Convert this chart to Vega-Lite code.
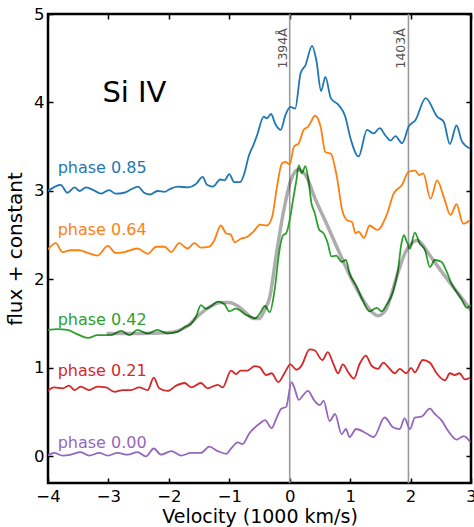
{
  "$schema": "https://vega.github.io/schema/vega-lite/v6.json",
  "width": 423,
  "height": 469,
  "autosize": "none",
  "padding": {"left": 48, "top": 14, "right": 3, "bottom": 44},
  "background": "white",
  "config": {
    "view": {"stroke": "black", "strokeWidth": 2.5},
    "font": "DejaVu Sans",
    "axis": {"grid": false, "domain": false, "labelFlush": false, "tickColor": "black", "tickWidth": 1.5, "tickSize": -5, "labelFontSize": 16.5, "labelColor": "black", "titleFontSize": 19.5, "titleFontWeight": "normal", "titleColor": "black", "labelFont": "DejaVu Sans", "titleFont": "DejaVu Sans"}
  },
  "datasets": {
    "curves": [
      {"s":"0.85","x":-4.0,"y":3.0},{"s":"0.85","x":-3.79,"y":3.07},{"s":"0.85","x":-3.68,"y":2.98},{"s":"0.85","x":-3.56,"y":3.04},{"s":"0.85","x":-3.48,"y":3.0},{"s":"0.85","x":-3.37,"y":3.04},{"s":"0.85","x":-3.25,"y":3.01},{"s":"0.85","x":-3.12,"y":2.97},{"s":"0.85","x":-2.99,"y":3.01},{"s":"0.85","x":-2.88,"y":2.97},{"s":"0.85","x":-2.74,"y":2.98},{"s":"0.85","x":-2.62,"y":3.02},{"s":"0.85","x":-2.51,"y":3.05},{"s":"0.85","x":-2.41,"y":2.98},{"s":"0.85","x":-2.31,"y":2.96},{"s":"0.85","x":-2.19,"y":3.0},{"s":"0.85","x":-2.07,"y":2.99},{"s":"0.85","x":-1.99,"y":3.02},{"s":"0.85","x":-1.85,"y":3.05},{"s":"0.85","x":-1.69,"y":3.04},{"s":"0.85","x":-1.55,"y":3.08},{"s":"0.85","x":-1.44,"y":3.16},{"s":"0.85","x":-1.37,"y":3.07},{"s":"0.85","x":-1.27,"y":3.05},{"s":"0.85","x":-1.15,"y":3.13},{"s":"0.85","x":-1.08,"y":3.12},{"s":"0.85","x":-1.0,"y":3.19},{"s":"0.85","x":-0.92,"y":3.10},{"s":"0.85","x":-0.82,"y":3.10},{"s":"0.85","x":-0.75,"y":3.20},{"s":"0.85","x":-0.68,"y":3.39},{"s":"0.85","x":-0.6,"y":3.52},{"s":"0.85","x":-0.54,"y":3.63},{"s":"0.85","x":-0.43,"y":3.84},{"s":"0.85","x":-0.38,"y":3.82},{"s":"0.85","x":-0.31,"y":3.87},{"s":"0.85","x":-0.24,"y":3.76},{"s":"0.85","x":-0.15,"y":3.69},{"s":"0.85","x":-0.07,"y":3.86},{"s":"0.85","x":0.01,"y":3.95},{"s":"0.85","x":0.09,"y":3.93},{"s":"0.85","x":0.18,"y":4.33},{"s":"0.85","x":0.26,"y":4.42},{"s":"0.85","x":0.37,"y":4.64},{"s":"0.85","x":0.44,"y":4.48},{"s":"0.85","x":0.52,"y":4.13},{"s":"0.85","x":0.59,"y":4.29},{"s":"0.85","x":0.68,"y":4.05},{"s":"0.85","x":0.81,"y":3.97},{"s":"0.85","x":0.92,"y":3.84},{"s":"0.85","x":1.0,"y":3.61},{"s":"0.85","x":1.14,"y":3.39},{"s":"0.85","x":1.28,"y":3.69},{"s":"0.85","x":1.39,"y":3.65},{"s":"0.85","x":1.49,"y":3.71},{"s":"0.85","x":1.58,"y":3.63},{"s":"0.85","x":1.67,"y":3.57},{"s":"0.85","x":1.75,"y":3.62},{"s":"0.85","x":1.86,"y":3.54},{"s":"0.85","x":1.97,"y":3.73},{"s":"0.85","x":2.08,"y":3.80},{"s":"0.85","x":2.25,"y":4.05},{"s":"0.85","x":2.44,"y":3.84},{"s":"0.85","x":2.55,"y":3.78},{"s":"0.85","x":2.65,"y":3.53},{"s":"0.85","x":2.76,"y":3.74},{"s":"0.85","x":2.85,"y":3.56},{"s":"0.85","x":2.98,"y":3.48},
      {"s":"0.64","x":-4.0,"y":2.34},{"s":"0.64","x":-3.87,"y":2.41},{"s":"0.64","x":-3.76,"y":2.31},{"s":"0.64","x":-3.62,"y":2.33},{"s":"0.64","x":-3.48,"y":2.33},{"s":"0.64","x":-3.34,"y":2.30},{"s":"0.64","x":-3.18,"y":2.27},{"s":"0.64","x":-3.01,"y":2.38},{"s":"0.64","x":-2.88,"y":2.30},{"s":"0.64","x":-2.74,"y":2.31},{"s":"0.64","x":-2.52,"y":2.35},{"s":"0.64","x":-2.35,"y":2.29},{"s":"0.64","x":-2.21,"y":2.37},{"s":"0.64","x":-2.07,"y":2.37},{"s":"0.64","x":-1.96,"y":2.31},{"s":"0.64","x":-1.83,"y":2.41},{"s":"0.64","x":-1.69,"y":2.35},{"s":"0.64","x":-1.58,"y":2.41},{"s":"0.64","x":-1.47,"y":2.36},{"s":"0.64","x":-1.33,"y":2.37},{"s":"0.64","x":-1.25,"y":2.44},{"s":"0.64","x":-1.14,"y":2.61},{"s":"0.64","x":-1.05,"y":2.52},{"s":"0.64","x":-0.98,"y":2.51},{"s":"0.64","x":-0.91,"y":2.42},{"s":"0.64","x":-0.81,"y":2.46},{"s":"0.64","x":-0.71,"y":2.48},{"s":"0.64","x":-0.60,"y":2.54},{"s":"0.64","x":-0.49,"y":2.62},{"s":"0.64","x":-0.38,"y":2.61},{"s":"0.64","x":-0.29,"y":2.71},{"s":"0.64","x":-0.21,"y":3.05},{"s":"0.64","x":-0.13,"y":3.31},{"s":"0.64","x":-0.07,"y":3.33},{"s":"0.64","x":0.0,"y":3.30},{"s":"0.64","x":0.07,"y":3.50},{"s":"0.64","x":0.15,"y":3.54},{"s":"0.64","x":0.23,"y":3.69},{"s":"0.64","x":0.31,"y":3.73},{"s":"0.64","x":0.42,"y":3.85},{"s":"0.64","x":0.51,"y":3.73},{"s":"0.64","x":0.59,"y":3.44},{"s":"0.64","x":0.68,"y":3.42},{"s":"0.64","x":0.78,"y":3.16},{"s":"0.64","x":0.87,"y":2.78},{"s":"0.64","x":0.95,"y":2.67},{"s":"0.64","x":1.03,"y":2.65},{"s":"0.64","x":1.09,"y":2.52},{"s":"0.64","x":1.14,"y":2.54},{"s":"0.64","x":1.23,"y":2.47},{"s":"0.64","x":1.32,"y":2.61},{"s":"0.64","x":1.45,"y":2.56},{"s":"0.64","x":1.61,"y":2.74},{"s":"0.64","x":1.72,"y":2.97},{"s":"0.64","x":1.86,"y":3.07},{"s":"0.64","x":1.97,"y":3.22},{"s":"0.64","x":2.08,"y":3.23},{"s":"0.64","x":2.14,"y":3.18},{"s":"0.64","x":2.21,"y":3.20},{"s":"0.64","x":2.33,"y":2.91},{"s":"0.64","x":2.44,"y":3.12},{"s":"0.64","x":2.55,"y":2.93},{"s":"0.64","x":2.66,"y":2.73},{"s":"0.64","x":2.76,"y":2.85},{"s":"0.64","x":2.87,"y":2.63},{"s":"0.64","x":2.98,"y":2.67},
      {"s":"0.42","x":-4.0,"y":1.43},{"s":"0.42","x":-3.84,"y":1.44},{"s":"0.42","x":-3.68,"y":1.43},{"s":"0.42","x":-3.51,"y":1.38},{"s":"0.42","x":-3.34,"y":1.34},{"s":"0.42","x":-3.18,"y":1.37},{"s":"0.42","x":-2.96,"y":1.37},{"s":"0.42","x":-2.79,"y":1.42},{"s":"0.42","x":-2.65,"y":1.37},{"s":"0.42","x":-2.52,"y":1.43},{"s":"0.42","x":-2.35,"y":1.39},{"s":"0.42","x":-2.19,"y":1.43},{"s":"0.42","x":-2.02,"y":1.39},{"s":"0.42","x":-1.85,"y":1.41},{"s":"0.42","x":-1.74,"y":1.46},{"s":"0.42","x":-1.63,"y":1.50},{"s":"0.42","x":-1.55,"y":1.58},{"s":"0.42","x":-1.47,"y":1.71},{"s":"0.42","x":-1.39,"y":1.67},{"s":"0.42","x":-1.30,"y":1.70},{"s":"0.42","x":-1.19,"y":1.75},{"s":"0.42","x":-1.08,"y":1.72},{"s":"0.42","x":-1.0,"y":1.64},{"s":"0.42","x":-0.89,"y":1.67},{"s":"0.42","x":-0.82,"y":1.65},{"s":"0.42","x":-0.75,"y":1.61},{"s":"0.42","x":-0.65,"y":1.58},{"s":"0.42","x":-0.57,"y":1.56},{"s":"0.42","x":-0.50,"y":1.61},{"s":"0.42","x":-0.41,"y":1.70},{"s":"0.42","x":-0.33,"y":1.63},{"s":"0.42","x":-0.25,"y":1.88},{"s":"0.42","x":-0.17,"y":2.33},{"s":"0.42","x":-0.11,"y":2.50},{"s":"0.42","x":-0.06,"y":2.52},{"s":"0.42","x":0.01,"y":2.71},{"s":"0.42","x":0.05,"y":2.88},{"s":"0.42","x":0.11,"y":3.12},{"s":"0.42","x":0.15,"y":3.29},{"s":"0.42","x":0.20,"y":3.20},{"s":"0.42","x":0.26,"y":3.28},{"s":"0.42","x":0.31,"y":3.12},{"s":"0.42","x":0.36,"y":2.86},{"s":"0.42","x":0.41,"y":2.76},{"s":"0.42","x":0.49,"y":2.56},{"s":"0.42","x":0.55,"y":2.53},{"s":"0.42","x":0.63,"y":2.41},{"s":"0.42","x":0.69,"y":2.26},{"s":"0.42","x":0.77,"y":2.27},{"s":"0.42","x":0.86,"y":2.20},{"s":"0.42","x":0.93,"y":2.22},{"s":"0.42","x":0.99,"y":2.07},{"s":"0.42","x":1.10,"y":1.93},{"s":"0.42","x":1.21,"y":1.76},{"s":"0.42","x":1.32,"y":1.64},{"s":"0.42","x":1.44,"y":1.68},{"s":"0.42","x":1.52,"y":1.64},{"s":"0.42","x":1.60,"y":1.71},{"s":"0.42","x":1.71,"y":1.86},{"s":"0.42","x":1.79,"y":2.10},{"s":"0.42","x":1.85,"y":2.41},{"s":"0.42","x":1.89,"y":2.50},{"s":"0.42","x":1.93,"y":2.44},{"s":"0.42","x":1.99,"y":2.35},{"s":"0.42","x":2.07,"y":2.53},{"s":"0.42","x":2.15,"y":2.41},{"s":"0.42","x":2.24,"y":2.33},{"s":"0.42","x":2.32,"y":2.14},{"s":"0.42","x":2.40,"y":2.22},{"s":"0.42","x":2.51,"y":2.20},{"s":"0.42","x":2.59,"y":2.10},{"s":"0.42","x":2.68,"y":1.95},{"s":"0.42","x":2.76,"y":1.86},{"s":"0.42","x":2.84,"y":1.78},{"s":"0.42","x":2.93,"y":1.68},{"s":"0.42","x":3.0,"y":1.71},
      {"s":"0.21","x":-4.0,"y":0.74},{"s":"0.21","x":-3.90,"y":0.78},{"s":"0.21","x":-3.76,"y":0.77},{"s":"0.21","x":-3.65,"y":0.80},{"s":"0.21","x":-3.56,"y":0.75},{"s":"0.21","x":-3.46,"y":0.79},{"s":"0.21","x":-3.32,"y":0.75},{"s":"0.21","x":-3.18,"y":0.79},{"s":"0.21","x":-3.04,"y":0.78},{"s":"0.21","x":-2.90,"y":0.73},{"s":"0.21","x":-2.76,"y":0.75},{"s":"0.21","x":-2.63,"y":0.75},{"s":"0.21","x":-2.49,"y":0.78},{"s":"0.21","x":-2.35,"y":0.75},{"s":"0.21","x":-2.25,"y":0.89},{"s":"0.21","x":-2.16,"y":0.77},{"s":"0.21","x":-2.02,"y":0.74},{"s":"0.21","x":-1.88,"y":0.80},{"s":"0.21","x":-1.74,"y":0.83},{"s":"0.21","x":-1.63,"y":0.78},{"s":"0.21","x":-1.47,"y":0.83},{"s":"0.21","x":-1.36,"y":0.77},{"s":"0.21","x":-1.19,"y":0.81},{"s":"0.21","x":-1.11,"y":0.78},{"s":"0.21","x":-0.97,"y":0.97},{"s":"0.21","x":-0.89,"y":0.93},{"s":"0.21","x":-0.81,"y":0.97},{"s":"0.21","x":-0.70,"y":0.97},{"s":"0.21","x":-0.58,"y":1.02},{"s":"0.21","x":-0.50,"y":1.01},{"s":"0.21","x":-0.39,"y":0.92},{"s":"0.21","x":-0.30,"y":0.94},{"s":"0.21","x":-0.19,"y":0.84},{"s":"0.21","x":-0.08,"y":0.95},{"s":"0.21","x":0.01,"y":1.04},{"s":"0.21","x":0.11,"y":0.98},{"s":"0.21","x":0.19,"y":1.02},{"s":"0.21","x":0.33,"y":1.21},{"s":"0.21","x":0.41,"y":1.20},{"s":"0.21","x":0.54,"y":1.09},{"s":"0.21","x":0.63,"y":1.18},{"s":"0.21","x":0.72,"y":1.05},{"s":"0.21","x":0.80,"y":0.94},{"s":"0.21","x":0.88,"y":1.04},{"s":"0.21","x":0.97,"y":0.95},{"s":"0.21","x":1.06,"y":0.88},{"s":"0.21","x":1.16,"y":1.05},{"s":"0.21","x":1.26,"y":1.14},{"s":"0.21","x":1.35,"y":1.03},{"s":"0.21","x":1.46,"y":0.99},{"s":"0.21","x":1.55,"y":1.06},{"s":"0.21","x":1.63,"y":1.01},{"s":"0.21","x":1.74,"y":0.94},{"s":"0.21","x":1.82,"y":0.99},{"s":"0.21","x":1.93,"y":0.94},{"s":"0.21","x":2.01,"y":1.0},{"s":"0.21","x":2.07,"y":0.95},{"s":"0.21","x":2.20,"y":1.09},{"s":"0.21","x":2.32,"y":1.06},{"s":"0.21","x":2.43,"y":0.94},{"s":"0.21","x":2.57,"y":0.86},{"s":"0.21","x":2.65,"y":0.94},{"s":"0.21","x":2.73,"y":0.92},{"s":"0.21","x":2.81,"y":0.94},{"s":"0.21","x":2.90,"y":0.87},{"s":"0.21","x":2.98,"y":0.89},
      {"s":"0.00","x":-4.0,"y":0.01},{"s":"0.00","x":-3.90,"y":0.04},{"s":"0.00","x":-3.76,"y":0.01},{"s":"0.00","x":-3.62,"y":0.02},{"s":"0.00","x":-3.46,"y":0.05},{"s":"0.00","x":-3.32,"y":0.01},{"s":"0.00","x":-3.15,"y":0.04},{"s":"0.00","x":-3.01,"y":0.01},{"s":"0.00","x":-2.85,"y":0.04},{"s":"0.00","x":-2.68,"y":0.02},{"s":"0.00","x":-2.52,"y":0.05},{"s":"0.00","x":-2.38,"y":0.0},{"s":"0.00","x":-2.25,"y":0.09},{"s":"0.00","x":-2.13,"y":0.02},{"s":"0.00","x":-1.96,"y":0.06},{"s":"0.00","x":-1.80,"y":0.01},{"s":"0.00","x":-1.63,"y":0.04},{"s":"0.00","x":-1.47,"y":0.04},{"s":"0.00","x":-1.33,"y":0.11},{"s":"0.00","x":-1.19,"y":0.06},{"s":"0.00","x":-1.05,"y":0.03},{"s":"0.00","x":-0.97,"y":0.09},{"s":"0.00","x":-0.86,"y":0.16},{"s":"0.00","x":-0.78,"y":0.14},{"s":"0.00","x":-0.67,"y":0.26},{"s":"0.00","x":-0.50,"y":0.37},{"s":"0.00","x":-0.41,"y":0.41},{"s":"0.00","x":-0.30,"y":0.32},{"s":"0.00","x":-0.22,"y":0.43},{"s":"0.00","x":-0.14,"y":0.54},{"s":"0.00","x":-0.06,"y":0.56},{"s":"0.00","x":0.03,"y":0.84},{"s":"0.00","x":0.08,"y":0.77},{"s":"0.00","x":0.15,"y":0.64},{"s":"0.00","x":0.22,"y":0.69},{"s":"0.00","x":0.30,"y":0.74},{"s":"0.00","x":0.41,"y":0.63},{"s":"0.00","x":0.50,"y":0.58},{"s":"0.00","x":0.56,"y":0.63},{"s":"0.00","x":0.66,"y":0.40},{"s":"0.00","x":0.75,"y":0.48},{"s":"0.00","x":0.86,"y":0.25},{"s":"0.00","x":0.93,"y":0.31},{"s":"0.00","x":0.99,"y":0.22},{"s":"0.00","x":1.10,"y":0.31},{"s":"0.00","x":1.27,"y":0.26},{"s":"0.00","x":1.39,"y":0.22},{"s":"0.00","x":1.57,"y":0.44},{"s":"0.00","x":1.71,"y":0.33},{"s":"0.00","x":1.82,"y":0.31},{"s":"0.00","x":1.90,"y":0.43},{"s":"0.00","x":1.99,"y":0.31},{"s":"0.00","x":2.07,"y":0.44},{"s":"0.00","x":2.18,"y":0.45},{"s":"0.00","x":2.32,"y":0.54},{"s":"0.00","x":2.40,"y":0.48},{"s":"0.00","x":2.51,"y":0.41},{"s":"0.00","x":2.62,"y":0.29},{"s":"0.00","x":2.76,"y":0.19},{"s":"0.00","x":2.88,"y":0.23},{"s":"0.00","x":2.99,"y":0.16}
    ],
    "model": [
      {"x":-3.03,"y":1.39},{"x":-2.5,"y":1.39},{"x":-2.0,"y":1.40},{"x":-1.85,"y":1.42},{"x":-1.7,"y":1.47},{"x":-1.5,"y":1.60},{"x":-1.3,"y":1.70},{"x":-1.15,"y":1.74},{"x":-1.0,"y":1.74},{"x":-0.86,"y":1.70},{"x":-0.72,"y":1.62},{"x":-0.6,"y":1.56},{"x":-0.5,"y":1.56},{"x":-0.42,"y":1.65},{"x":-0.33,"y":1.80},{"x":-0.22,"y":2.29},{"x":-0.11,"y":2.74},{"x":0.0,"y":3.08},{"x":0.07,"y":3.20},{"x":0.14,"y":3.24},{"x":0.21,"y":3.22},{"x":0.28,"y":3.16},{"x":0.41,"y":2.93},{"x":0.61,"y":2.63},{"x":0.83,"y":2.29},{"x":1.05,"y":1.97},{"x":1.27,"y":1.71},{"x":1.38,"y":1.62},{"x":1.46,"y":1.59},{"x":1.53,"y":1.61},{"x":1.60,"y":1.67},{"x":1.68,"y":1.82},{"x":1.77,"y":2.03},{"x":1.93,"y":2.33},{"x":2.02,"y":2.41},{"x":2.10,"y":2.44},{"x":2.18,"y":2.41},{"x":2.26,"y":2.33},{"x":2.48,"y":2.12},{"x":2.70,"y":1.92},{"x":2.87,"y":1.77},{"x":3.0,"y":1.65}
    ],
    "lines": [{"v":0,"t":"1394Å"},{"v":1.965,"t":"1403Å"}],
    "labels": [
      {"s":"0.85","t":"phase 0.85","x":-3.84,"y":3.2},
      {"s":"0.64","t":"phase 0.64","x":-3.84,"y":2.5},
      {"s":"0.42","t":"phase 0.42","x":-3.84,"y":1.49},
      {"s":"0.21","t":"phase 0.21","x":-3.84,"y":0.905},
      {"s":"0.00","t":"phase 0.00","x":-3.84,"y":0.098}
    ]
  },
  "resolve": {"axis": {"x": "independent", "y": "independent"}},
  "layer": [
    {
      "data": {"name": "lines"},
      "mark": {"type": "rule", "color": "#999999", "strokeWidth": 1.6},
      "encoding": {
        "x": {"field": "v", "type": "quantitative", "scale": {"domain": [-4, 3], "nice": false, "zero": false}, "axis": null}
      }
    },
    {
      "data": {"name": "lines"},
      "mark": {"type": "text", "angle": 270, "align": "right", "baseline": "alphabetic", "dy": -3, "fontSize": 12.5, "color": "#555555", "font": "DejaVu Sans"},
      "encoding": {
        "x": {"field": "v", "type": "quantitative", "axis": null},
        "y": {"datum": 4.84, "type": "quantitative", "axis": null},
        "text": {"field": "t"}
      }
    },
    {
      "data": {"name": "curves"},
      "mark": {"type": "line", "strokeWidth": 1.8, "interpolate": "monotone", "clip": true},
      "encoding": {
        "x": {"field": "x", "type": "quantitative", "scale": {"domain": [-4, 3], "nice": false, "zero": false},
              "axis": {"orient": "bottom", "values": [-4,-3,-2,-1,0,1,2,3], "labelPadding": 10, "labelFlush": false, "title": "Velocity (1000 km/s)", "titleFontSize": 19, "titlePadding": 3, "labelExpr": "replace(datum.label, '-', '−')"}},
        "y": {"field": "y", "type": "quantitative", "scale": {"domain": [-0.3, 5], "nice": false, "zero": false},
              "axis": {"orient": "left", "values": [0,1,2,3,4,5], "labelPadding": 9, "labelFlush": false, "title": "flux + constant", "titleFontSize": 20, "titlePadding": 8}},
        "color": {"field": "s", "type": "nominal", "legend": null,
                  "scale": {"domain": ["0.85","0.64","0.42","0.21","0.00"], "range": ["#1f77b4","#ff7f0e","#2ca02c","#d62728","#9467bd"]}},
        "detail": {"field": "s"}
      }
    },
    {
      "data": {"name": "model"},
      "mark": {"type": "line", "strokeWidth": 3.5, "color": "#000000", "opacity": 0.32, "interpolate": "monotone", "clip": true},
      "encoding": {
        "x": {"field": "x", "type": "quantitative", "axis": {"orient": "top", "values": [-4,-3,-2,-1,0,1,2,3], "labels": false, "title": null}},
        "y": {"field": "y", "type": "quantitative", "axis": {"orient": "right", "values": [0,1,2,3,4,5], "labels": false, "title": null}}
      }
    },
    {
      "data": {"name": "labels"},
      "mark": {"type": "text", "align": "left", "baseline": "alphabetic", "fontSize": 16, "font": "DejaVu Sans"},
      "encoding": {
        "x": {"field": "x", "type": "quantitative", "axis": null},
        "y": {"field": "y", "type": "quantitative", "axis": null},
        "text": {"field": "t"},
        "color": {"field": "s", "type": "nominal", "legend": null}
      }
    },
    {
      "data": {"values": [{"t": "Si IV", "x": -3.1, "y": 4.01}]},
      "mark": {"type": "text", "align": "left", "baseline": "alphabetic", "fontSize": 29, "font": "DejaVu Sans", "color": "black"},
      "encoding": {
        "x": {"field": "x", "type": "quantitative", "axis": null},
        "y": {"field": "y", "type": "quantitative", "axis": null},
        "text": {"field": "t"}
      }
    }
  ]
}
